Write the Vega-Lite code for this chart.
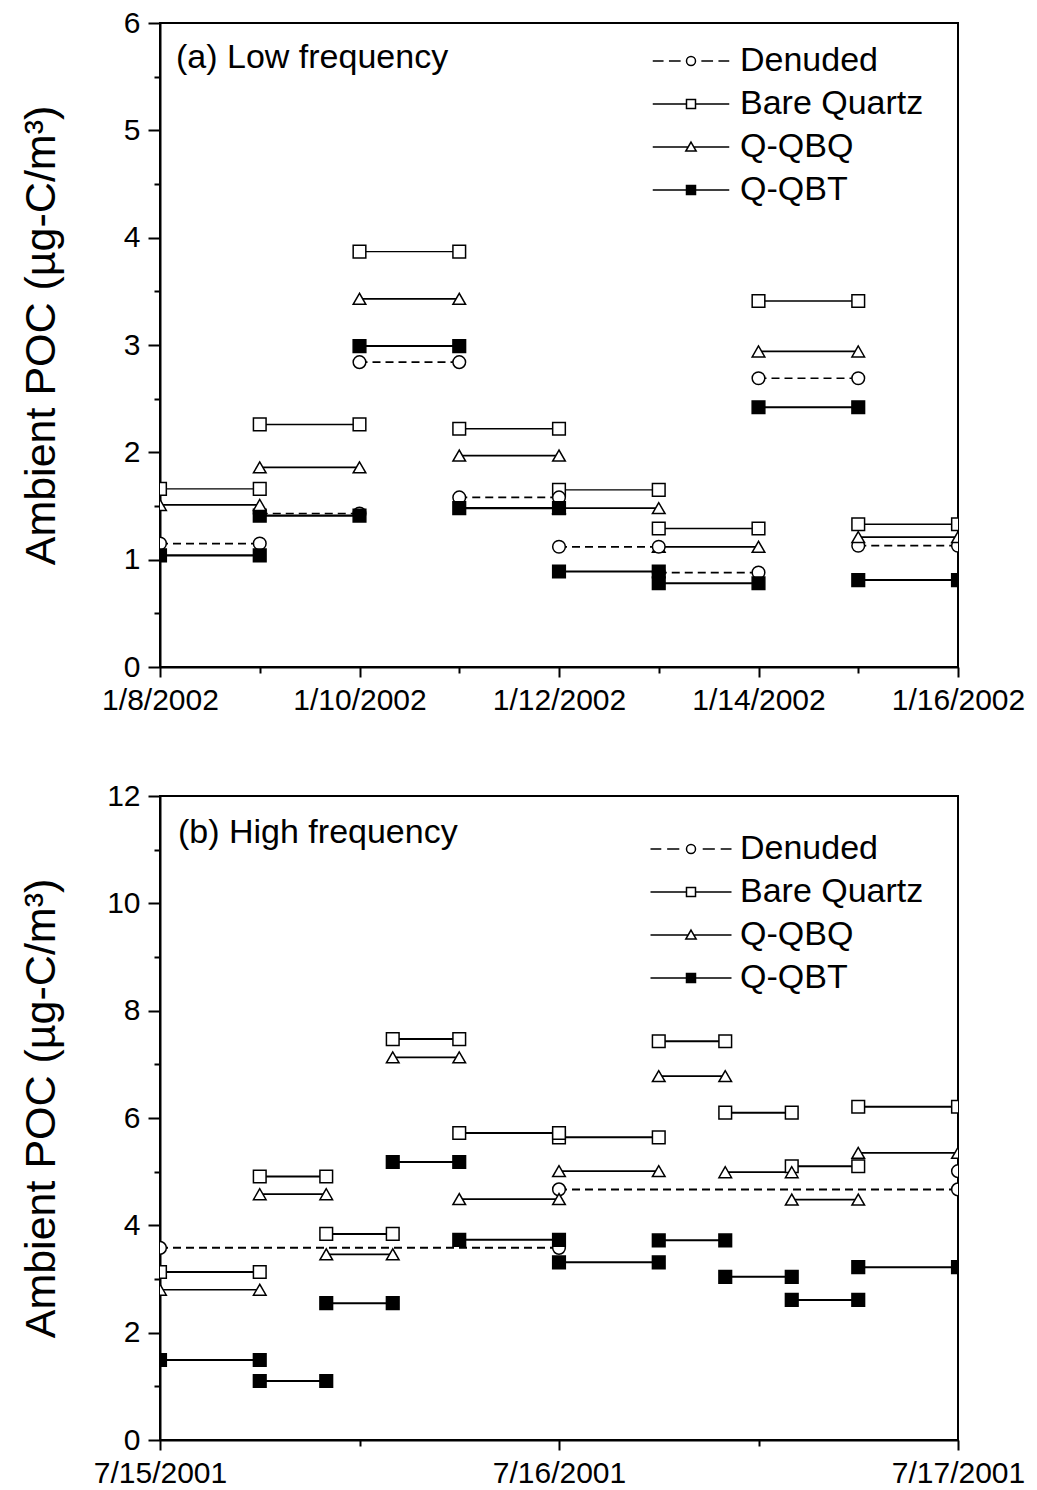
{
  "$schema": "https://vega.github.io/schema/vega-lite/v6.json",
  "background": "white",
  "padding": {"left": 19, "top": 7, "right": 5, "bottom": 5},
  "spacing": 64,
  "resolve": {"scale": {"shape": "independent", "fill": "independent"}, "legend": {"shape": "independent", "fill": "independent"}},
  "config": {
    "font": "Liberation Sans",
    "view": {"stroke": "black", "strokeWidth": 2},
    "axis": {
      "grid": false,
      "domainColor": "black",
      "domainWidth": 2,
      "tickColor": "black",
      "tickWidth": 2,
      "labelColor": "black",
      "labelFont": "Liberation Sans",
      "labelFontSize": 30,
      "titleFont": "Liberation Sans",
      "titleFontSize": 43,
      "titleFontWeight": "normal",
      "titleColor": "black"
    },
    "legend": {
      "orient": "none",
      "title": null,
      "padding": 0,
      "symbolSize": 81,
      "symbolStrokeWidth": 1.5,
      "labelFontSize": 34,
      "labelFont": "Liberation Sans",
      "labelColor": "black",
      "labelOffset": 32,
      "labelLimit": 400,
      "rowPadding": 9
    }
  },
  "datasets": {
    "low": [
      {"series": "Denuded", "start": "2002-01-08T00:00:00", "end": "2002-01-09T00:00:00", "poc": 1.15},
      {"series": "Bare Quartz", "start": "2002-01-08T00:00:00", "end": "2002-01-09T00:00:00", "poc": 1.66},
      {"series": "Q-QBQ", "start": "2002-01-08T00:00:00", "end": "2002-01-09T00:00:00", "poc": 1.51},
      {"series": "Q-QBT", "start": "2002-01-08T00:00:00", "end": "2002-01-09T00:00:00", "poc": 1.04},
      {"series": "Denuded", "start": "2002-01-09T00:00:00", "end": "2002-01-10T00:00:00", "poc": 1.43},
      {"series": "Bare Quartz", "start": "2002-01-09T00:00:00", "end": "2002-01-10T00:00:00", "poc": 2.26},
      {"series": "Q-QBQ", "start": "2002-01-09T00:00:00", "end": "2002-01-10T00:00:00", "poc": 1.86},
      {"series": "Q-QBT", "start": "2002-01-09T00:00:00", "end": "2002-01-10T00:00:00", "poc": 1.41},
      {"series": "Denuded", "start": "2002-01-10T00:00:00", "end": "2002-01-11T00:00:00", "poc": 2.84},
      {"series": "Bare Quartz", "start": "2002-01-10T00:00:00", "end": "2002-01-11T00:00:00", "poc": 3.87},
      {"series": "Q-QBQ", "start": "2002-01-10T00:00:00", "end": "2002-01-11T00:00:00", "poc": 3.43},
      {"series": "Q-QBT", "start": "2002-01-10T00:00:00", "end": "2002-01-11T00:00:00", "poc": 2.99},
      {"series": "Denuded", "start": "2002-01-11T00:00:00", "end": "2002-01-12T00:00:00", "poc": 1.58},
      {"series": "Bare Quartz", "start": "2002-01-11T00:00:00", "end": "2002-01-12T00:00:00", "poc": 2.22},
      {"series": "Q-QBQ", "start": "2002-01-11T00:00:00", "end": "2002-01-12T00:00:00", "poc": 1.97},
      {"series": "Q-QBT", "start": "2002-01-11T00:00:00", "end": "2002-01-12T00:00:00", "poc": 1.48},
      {"series": "Denuded", "start": "2002-01-12T00:00:00", "end": "2002-01-13T00:00:00", "poc": 1.12},
      {"series": "Bare Quartz", "start": "2002-01-12T00:00:00", "end": "2002-01-13T00:00:00", "poc": 1.65},
      {"series": "Q-QBQ", "start": "2002-01-12T00:00:00", "end": "2002-01-13T00:00:00", "poc": 1.48},
      {"series": "Q-QBT", "start": "2002-01-12T00:00:00", "end": "2002-01-13T00:00:00", "poc": 0.89},
      {"series": "Denuded", "start": "2002-01-13T00:00:00", "end": "2002-01-14T00:00:00", "poc": 0.88},
      {"series": "Bare Quartz", "start": "2002-01-13T00:00:00", "end": "2002-01-14T00:00:00", "poc": 1.29},
      {"series": "Q-QBQ", "start": "2002-01-13T00:00:00", "end": "2002-01-14T00:00:00", "poc": 1.12},
      {"series": "Q-QBT", "start": "2002-01-13T00:00:00", "end": "2002-01-14T00:00:00", "poc": 0.78},
      {"series": "Denuded", "start": "2002-01-14T00:00:00", "end": "2002-01-15T00:00:00", "poc": 2.69},
      {"series": "Bare Quartz", "start": "2002-01-14T00:00:00", "end": "2002-01-15T00:00:00", "poc": 3.41},
      {"series": "Q-QBQ", "start": "2002-01-14T00:00:00", "end": "2002-01-15T00:00:00", "poc": 2.94},
      {"series": "Q-QBT", "start": "2002-01-14T00:00:00", "end": "2002-01-15T00:00:00", "poc": 2.42},
      {"series": "Denuded", "start": "2002-01-15T00:00:00", "end": "2002-01-16T00:00:00", "poc": 1.13},
      {"series": "Bare Quartz", "start": "2002-01-15T00:00:00", "end": "2002-01-16T00:00:00", "poc": 1.33},
      {"series": "Q-QBQ", "start": "2002-01-15T00:00:00", "end": "2002-01-16T00:00:00", "poc": 1.21},
      {"series": "Q-QBT", "start": "2002-01-15T00:00:00", "end": "2002-01-16T00:00:00", "poc": 0.81}
    ],
    "high": [
      {"series": "Denuded", "start": "2001-07-15T00:00:00", "end": "2001-07-16T00:00:00", "poc": 3.58},
      {"series": "Denuded", "start": "2001-07-16T00:00:00", "end": "2001-07-17T00:00:00", "poc": 4.67},
      {"series": "Denuded", "start": "2001-07-17T00:00:00", "end": "2001-07-18T00:00:00", "poc": 5.01},
      {"series": "Bare Quartz", "start": "2001-07-15T00:00:00", "end": "2001-07-15T06:00:00", "poc": 3.13},
      {"series": "Q-QBQ", "start": "2001-07-15T00:00:00", "end": "2001-07-15T06:00:00", "poc": 2.8},
      {"series": "Q-QBT", "start": "2001-07-15T00:00:00", "end": "2001-07-15T06:00:00", "poc": 1.49},
      {"series": "Bare Quartz", "start": "2001-07-15T06:00:00", "end": "2001-07-15T10:00:00", "poc": 4.91},
      {"series": "Q-QBQ", "start": "2001-07-15T06:00:00", "end": "2001-07-15T10:00:00", "poc": 4.58},
      {"series": "Q-QBT", "start": "2001-07-15T06:00:00", "end": "2001-07-15T10:00:00", "poc": 1.1},
      {"series": "Bare Quartz", "start": "2001-07-15T10:00:00", "end": "2001-07-15T14:00:00", "poc": 3.84},
      {"series": "Q-QBQ", "start": "2001-07-15T10:00:00", "end": "2001-07-15T14:00:00", "poc": 3.46},
      {"series": "Q-QBT", "start": "2001-07-15T10:00:00", "end": "2001-07-15T14:00:00", "poc": 2.55},
      {"series": "Bare Quartz", "start": "2001-07-15T14:00:00", "end": "2001-07-15T18:00:00", "poc": 7.47},
      {"series": "Q-QBQ", "start": "2001-07-15T14:00:00", "end": "2001-07-15T18:00:00", "poc": 7.13},
      {"series": "Q-QBT", "start": "2001-07-15T14:00:00", "end": "2001-07-15T18:00:00", "poc": 5.18},
      {"series": "Bare Quartz", "start": "2001-07-15T18:00:00", "end": "2001-07-16T00:00:00", "poc": 5.72},
      {"series": "Q-QBQ", "start": "2001-07-15T18:00:00", "end": "2001-07-16T00:00:00", "poc": 4.49},
      {"series": "Q-QBT", "start": "2001-07-15T18:00:00", "end": "2001-07-16T00:00:00", "poc": 3.73},
      {"series": "Bare Quartz", "start": "2001-07-16T00:00:00", "end": "2001-07-16T06:00:00", "poc": 5.64},
      {"series": "Q-QBQ", "start": "2001-07-16T00:00:00", "end": "2001-07-16T06:00:00", "poc": 5.01},
      {"series": "Q-QBT", "start": "2001-07-16T00:00:00", "end": "2001-07-16T06:00:00", "poc": 3.31},
      {"series": "Bare Quartz", "start": "2001-07-16T06:00:00", "end": "2001-07-16T10:00:00", "poc": 7.43},
      {"series": "Q-QBQ", "start": "2001-07-16T06:00:00", "end": "2001-07-16T10:00:00", "poc": 6.78},
      {"series": "Q-QBT", "start": "2001-07-16T06:00:00", "end": "2001-07-16T10:00:00", "poc": 3.72},
      {"series": "Bare Quartz", "start": "2001-07-16T10:00:00", "end": "2001-07-16T14:00:00", "poc": 6.1},
      {"series": "Q-QBQ", "start": "2001-07-16T10:00:00", "end": "2001-07-16T14:00:00", "poc": 4.99},
      {"series": "Q-QBT", "start": "2001-07-16T10:00:00", "end": "2001-07-16T14:00:00", "poc": 3.04},
      {"series": "Bare Quartz", "start": "2001-07-16T14:00:00", "end": "2001-07-16T18:00:00", "poc": 5.1},
      {"series": "Q-QBQ", "start": "2001-07-16T14:00:00", "end": "2001-07-16T18:00:00", "poc": 4.48},
      {"series": "Q-QBT", "start": "2001-07-16T14:00:00", "end": "2001-07-16T18:00:00", "poc": 2.61},
      {"series": "Bare Quartz", "start": "2001-07-16T18:00:00", "end": "2001-07-17T00:00:00", "poc": 6.21},
      {"series": "Q-QBQ", "start": "2001-07-16T18:00:00", "end": "2001-07-17T00:00:00", "poc": 5.35},
      {"series": "Q-QBT", "start": "2001-07-16T18:00:00", "end": "2001-07-17T00:00:00", "poc": 3.22}
    ]
  },
  "vconcat": [
    {
      "width": 798,
      "height": 644,
      "data": {"name": "low"},
      "resolve": {"axis": {"x": "independent", "y": "independent"}},
      "layer": [
        {
          "mark": {"type": "rule", "clip": true, "color": "black"},
          "encoding": {
            "x": {"field": "start", "type": "temporal",
              "scale": {"domain": [{"year": 2002, "month": 1, "date": 8}, {"year": 2002, "month": 1, "date": 16}], "nice": false},
              "axis": {"orient": "bottom", "title": null, "values": [{"year": 2002, "month": 1, "date": 8}, {"year": 2002, "month": 1, "date": 10}, {"year": 2002, "month": 1, "date": 12}, {"year": 2002, "month": 1, "date": 14}, {"year": 2002, "month": 1, "date": 16}], "format": "%-m/%-d/%Y", "tickSize": 10, "labelPadding": 8, "labelFlush": false, "labelOverlap": false}},
            "x2": {"field": "end"},
            "y": {"field": "poc", "type": "quantitative",
              "scale": {"domain": [0, 6], "nice": false},
              "axis": {"orient": "left", "title": "Ambient POC (µg-C/m³)", "values": [0, 1, 2, 3, 4, 5, 6], "tickSize": 12, "labelPadding": 8, "titleX": -106, "titleY": 312, "titleBaseline": "alphabetic", "titleAngle": 270}},
            "strokeDash": {"condition": {"test": "datum.series === 'Denuded'", "value": [8, 5]}, "value": [1, 0]},
            "strokeWidth": {"condition": [{"test": "datum.series === 'Q-QBT'", "value": 2.1}, {"test": "datum.series === 'Bare Quartz'", "value": 1.4}], "value": 1.7}
          }
        },
        {
          "mark": {"type": "point", "clip": true, "opacity": 1, "stroke": "black", "strokeWidth": 1.5, "size": 160},
          "encoding": {
            "x": {"field": "start", "type": "temporal",
              "scale": {"domain": [{"year": 2002, "month": 1, "date": 8}, {"year": 2002, "month": 1, "date": 16}], "nice": false},
              "axis": {"orient": "bottom", "title": null, "labels": false, "domain": false, "tickSize": 6, "values": [{"year": 2002, "month": 1, "date": 9}, {"year": 2002, "month": 1, "date": 11}, {"year": 2002, "month": 1, "date": 13}, {"year": 2002, "month": 1, "date": 15}]}},
            "y": {"field": "poc", "type": "quantitative",
              "scale": {"domain": [0, 6], "nice": false},
              "axis": {"orient": "left", "title": null, "labels": false, "domain": false, "tickSize": 6, "values": [0.5, 1.5, 2.5, 3.5, 4.5, 5.5]}},
            "shape": {"condition": [{"test": "datum.series === 'Denuded'", "value": "circle"}, {"test": "datum.series === 'Q-QBQ'", "value": "triangle-up"}], "value": "square"},
            "fill": {"condition": {"test": "datum.series === 'Q-QBT'", "value": "black"}, "value": "white"}
          }
        },
        {
          "mark": {"type": "point", "clip": true, "opacity": 1, "stroke": "black", "strokeWidth": 1.5, "size": 160},
          "encoding": {
            "x": {"field": "end", "type": "temporal",
              "scale": {"domain": [{"year": 2002, "month": 1, "date": 8}, {"year": 2002, "month": 1, "date": 16}], "nice": false}, "axis": null},
            "y": {"field": "poc", "type": "quantitative", "scale": {"domain": [0, 6], "nice": false}, "axis": null},
            "shape": {"condition": [{"test": "datum.series === 'Denuded'", "value": "circle"}, {"test": "datum.series === 'Q-QBQ'", "value": "triangle-up"}], "value": "square"},
            "fill": {"condition": {"test": "datum.series === 'Q-QBT'", "value": "black"}, "value": "white"}
          }
        },
        {
          "transform": [{"filter": "datum.poc < 0"}],
          "mark": {"type": "point", "opacity": 1, "stroke": "black", "strokeWidth": 1.5},
          "encoding": {
            "x": {"field": "start", "type": "temporal", "axis": null},
            "y": {"field": "poc", "type": "quantitative", "axis": null},
            "shape": {"field": "series", "type": "nominal",
              "scale": {"domain": ["Denuded", "Bare Quartz", "Q-QBQ", "Q-QBT"], "range": [
                "M-8.5,0H-6.1M-4.9,0H-2.3M2.3,0H4.9M6.1,0H8.5M1,0A1,1 0 1,1 -1,0A1,1 0 1,1 1,0Z",
                "M-8.5,0H-1M1,0H8.5M-1,-1H1V1H-1Z",
                "M-8.5,0H-0.63M0.63,0H8.5M0,-1.1L1.15,0.9L-1.15,0.9Z",
                "M-8.5,0H8.5M-1,-1H1V1H-1Z"]},
              "legend": {"orient": "none", "legendX": 514, "legendY": 21}},
            "fill": {"field": "series", "type": "nominal",
              "scale": {"domain": ["Denuded", "Bare Quartz", "Q-QBQ", "Q-QBT"], "range": ["white", "white", "white", "black"]},
              "legend": {"orient": "none", "legendX": 514, "legendY": 21}}
          }
        },
        {
          "data": {"values": [{"label": "(a) Low frequency"}]},
          "mark": {"type": "text", "align": "left", "baseline": "middle", "dx": 16, "dy": 35, "fontSize": 34, "font": "Liberation Sans", "color": "black"},
          "encoding": {
            "x": {"datum": {"year": 2002, "month": 1, "date": 8}, "type": "temporal", "axis": null},
            "y": {"datum": 6, "type": "quantitative", "axis": null},
            "text": {"field": "label"}
          }
        }
      ]
    },
    {
      "width": 798,
      "height": 644,
      "data": {"name": "high"},
      "resolve": {"axis": {"x": "independent", "y": "independent"}},
      "layer": [
        {
          "mark": {"type": "rule", "clip": true, "color": "black"},
          "encoding": {
            "x": {"field": "start", "type": "temporal",
              "scale": {"domain": [{"year": 2001, "month": 7, "date": 15}, {"year": 2001, "month": 7, "date": 17}], "nice": false},
              "axis": {"orient": "bottom", "title": null, "values": [{"year": 2001, "month": 7, "date": 15}, {"year": 2001, "month": 7, "date": 16}, {"year": 2001, "month": 7, "date": 17}], "format": "%-m/%-d/%Y", "tickSize": 10, "labelPadding": 8, "labelFlush": false, "labelOverlap": false}},
            "x2": {"field": "end"},
            "y": {"field": "poc", "type": "quantitative",
              "scale": {"domain": [0, 12], "nice": false},
              "axis": {"orient": "left", "title": "Ambient POC (µg-C/m³)", "values": [0, 2, 4, 6, 8, 10, 12], "tickSize": 12, "labelPadding": 8, "titleX": -106, "titleY": 312, "titleBaseline": "alphabetic", "titleAngle": 270}},
            "strokeDash": {"condition": {"test": "datum.series === 'Denuded'", "value": [8, 5]}, "value": [1, 0]},
            "strokeWidth": {"condition": {"test": "datum.series === 'Q-QBQ'", "value": 1.7}, "value": 2}
          }
        },
        {
          "mark": {"type": "point", "clip": true, "opacity": 1, "stroke": "black", "strokeWidth": 1.5, "size": 160},
          "encoding": {
            "x": {"field": "start", "type": "temporal",
              "scale": {"domain": [{"year": 2001, "month": 7, "date": 15}, {"year": 2001, "month": 7, "date": 17}], "nice": false},
              "axis": {"orient": "bottom", "title": null, "labels": false, "domain": false, "tickSize": 6, "values": [{"year": 2001, "month": 7, "date": 15, "hours": 12}, {"year": 2001, "month": 7, "date": 16, "hours": 12}]}},
            "y": {"field": "poc", "type": "quantitative",
              "scale": {"domain": [0, 12], "nice": false},
              "axis": {"orient": "left", "title": null, "labels": false, "domain": false, "tickSize": 6, "values": [1, 3, 5, 7, 9, 11]}},
            "shape": {"condition": [{"test": "datum.series === 'Denuded'", "value": "circle"}, {"test": "datum.series === 'Q-QBQ'", "value": "triangle-up"}], "value": "square"},
            "fill": {"condition": {"test": "datum.series === 'Q-QBT'", "value": "black"}, "value": "white"}
          }
        },
        {
          "mark": {"type": "point", "clip": true, "opacity": 1, "stroke": "black", "strokeWidth": 1.5, "size": 160},
          "encoding": {
            "x": {"field": "end", "type": "temporal",
              "scale": {"domain": [{"year": 2001, "month": 7, "date": 15}, {"year": 2001, "month": 7, "date": 17}], "nice": false}, "axis": null},
            "y": {"field": "poc", "type": "quantitative", "scale": {"domain": [0, 12], "nice": false}, "axis": null},
            "shape": {"condition": [{"test": "datum.series === 'Denuded'", "value": "circle"}, {"test": "datum.series === 'Q-QBQ'", "value": "triangle-up"}], "value": "square"},
            "fill": {"condition": {"test": "datum.series === 'Q-QBT'", "value": "black"}, "value": "white"}
          }
        },
        {
          "transform": [{"filter": "datum.poc < 0"}],
          "mark": {"type": "point", "opacity": 1, "stroke": "black", "strokeWidth": 1.5},
          "encoding": {
            "x": {"field": "start", "type": "temporal", "axis": null},
            "y": {"field": "poc", "type": "quantitative", "axis": null},
            "shape": {"field": "series", "type": "nominal",
              "scale": {"domain": ["Denuded", "Bare Quartz", "Q-QBQ", "Q-QBT"], "range": [
                "M-9,0H-6.6M-5.3,0H-2.6M2.6,0H5.3M6.6,0H9M1,0A1,1 0 1,1 -1,0A1,1 0 1,1 1,0Z",
                "M-9,0H-1M1,0H9M-1,-1H1V1H-1Z",
                "M-9,0H-0.63M0.63,0H9M0,-1.1L1.15,0.9L-1.15,0.9Z",
                "M-9,0H9M-1,-1H1V1H-1Z"]},
              "legend": {"orient": "none", "legendX": 514, "legendY": 36}},
            "fill": {"field": "series", "type": "nominal",
              "scale": {"domain": ["Denuded", "Bare Quartz", "Q-QBQ", "Q-QBT"], "range": ["white", "white", "white", "black"]},
              "legend": {"orient": "none", "legendX": 514, "legendY": 36}}
          }
        },
        {
          "data": {"values": [{"label": "(b) High frequency"}]},
          "mark": {"type": "text", "align": "left", "baseline": "middle", "dx": 18, "dy": 37, "fontSize": 34, "font": "Liberation Sans", "color": "black"},
          "encoding": {
            "x": {"datum": {"year": 2001, "month": 7, "date": 15}, "type": "temporal", "axis": null},
            "y": {"datum": 12, "type": "quantitative", "axis": null},
            "text": {"field": "label"}
          }
        }
      ]
    }
  ]
}
